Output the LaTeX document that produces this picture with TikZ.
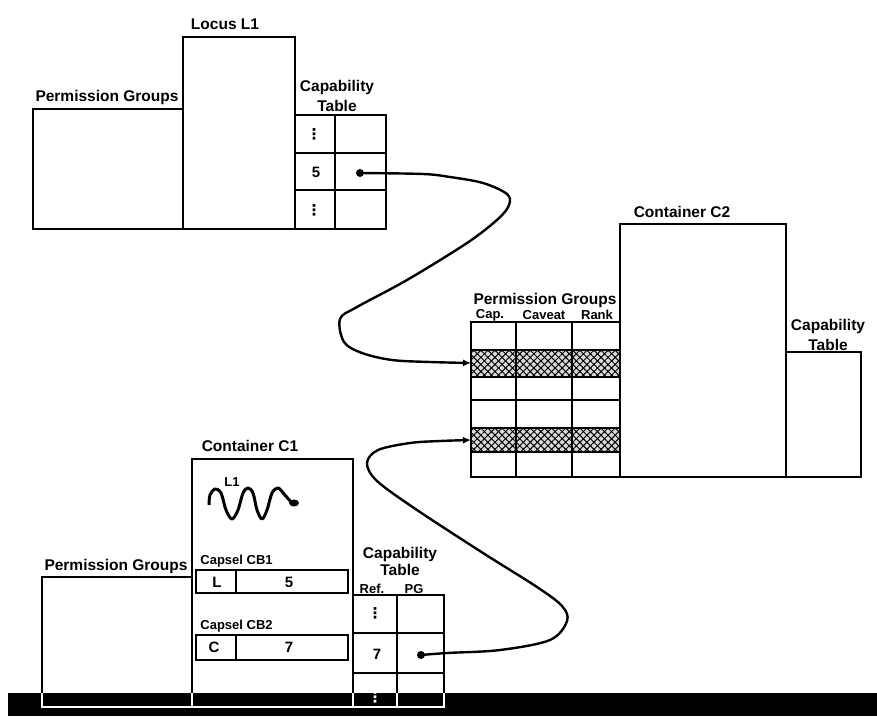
\documentclass[tikz,border=0pt]{standalone}
\usepackage{fontspec}
\setmainfont{Liberation Sans}
\newfontfamily\djv{DejaVu Sans}
\usetikzlibrary{patterns.meta,arrows.meta}
\begin{document}
\begin{tikzpicture}[x=1pt,y=-1pt,line width=2.8pt,
  lbl/.style={inner sep=0pt,font=\fontsize{15.5}{20}\selectfont\bfseries,align=center},
  slbl/.style={inner sep=0pt,font=\fontsize{13}{15}\selectfont\bfseries},
  cell/.style={inner sep=0pt,font=\fontsize{15}{18}\selectfont\bfseries},
  vdot/.style={inner sep=0pt,font=\fontsize{15}{18}\selectfont\djv\bfseries},
  hatchrow/.style={preaction={fill=black!15},
    pattern={Lines[angle=45,distance=5pt,line width=1pt]},
    postaction={pattern={Lines[angle=-45,distance=5pt,line width=1pt]}}},
  link/.style={line width=2.4pt,-{Latex[length=8pt,width=7pt]}},
  dotmark/.style={circle,fill=black,inner sep=0pt,minimum size=8pt}]
\useasboundingbox (0,0) rectangle (877,718);

% ---------- top-left group ----------
\draw (33,109) rectangle (183,229);
\draw (183,37) rectangle (295,229);
\draw (295,115) rectangle (386,229);
\draw (335,115) -- (335,229);
\draw (295,153) -- (386,153);
\draw (295,190) -- (386,190);
\node[lbl] (locus) at (225,24) {Locus L1};
\node[lbl] (pgtop) at (107,97) {Permission Groups};
\node[lbl] (cttop) at (337,96) {Capability\\Table};
\node[vdot] (t1a) at (314,134) {⋮};
\node[cell] (t1b) at (316,172) {5};
\node[vdot] (t1c) at (314,210) {⋮};
\node[dotmark] (d1) at (360,173) {};

% ---------- Container C2 group ----------
\path[hatchrow] (471,350) rectangle (620,377);
\path[hatchrow] (471,428) rectangle (620,452);
\draw (471,322) rectangle (620,477);
\draw (516,322) -- (516,477);
\draw (572,322) -- (572,477);
\foreach \yy in {350,377,400,428,452} \draw (471,\yy) -- (620,\yy);
\draw (620,224) rectangle (786,477);
\draw (786,352) rectangle (861,477);
\node[lbl] (c2) at (682,212) {Container C2};
\node[lbl] (pgc2) at (545,300) {Permission Groups};
\node[slbl] (h1) at (490,315) {Cap.};
\node[slbl] (h2) at (544,315) {Caveat};
\node[slbl] (h3) at (597,315) {Rank};
\node[lbl] (ctc2) at (828,335) {Capability\\Table};
\coordinate (r1) at (471,363);
\coordinate (r2) at (471,440);

% ---------- Container C1 group ----------
\draw (192,459) rectangle (353,707);
\draw (42,577) rectangle (192,707);
\draw (353,595) rectangle (444,707);
\draw (397,595) -- (397,707);
\draw (353,633) -- (444,633);
\draw (353,673) -- (444,673);
\node[lbl] (c1) at (250,446) {Container C1};
\node[lbl] (pgc1) at (116,566) {Permission Groups};
\node[lbl,font=\fontsize{15.5}{17}\selectfont\bfseries] (ctc1) at (400,561) {Capability\\Table};
\node[slbl] (h4) at (372,589) {Ref.};
\node[slbl] (h5) at (414,589) {PG};
\node[vdot] (t2a) at (375,613) {⋮};
\node[cell] (t2b) at (377,654) {7};
\node[dotmark] (d2) at (421,655) {};

% capsels
\node[slbl,anchor=west] (cb1) at (199,561) {Capsel CB1};
\draw (196,570) rectangle (348,593);
\draw (236,570) -- (236,593);
\node[cell] (cb1a) at (217,582) {L};
\node[cell] (cb1b) at (289,582) {5};
\node[slbl,anchor=west] (cb2) at (199,626) {Capsel CB2};
\draw (196,635) rectangle (348,660);
\draw (236,635) -- (236,660);
\node[cell] (cb2a) at (214,647) {C};
\node[cell] (cb2b) at (289,647) {7};

% locus wave
\draw[line width=3pt,line join=round] plot[smooth,tension=0.55] coordinates {
 (209,505) (210,495) (215,489) (221,493) (226,510) (232,519) (238,510)
 (243,493) (248,488) (253,493) (257,510) (262,519) (267,510) (272,493)
 (278,488) (284,494) (291,502)};
\fill (294,503) ellipse (5pt and 3.5pt);
\node[slbl] (l1) at (232,482) {L1};

% ---------- links ----------
\draw[link] plot[smooth,tension=0.55] coordinates {
 (d1) (423,174) (450,177) (483,183) (507,194) (509,205) (498,219)
 (467,243) (407,280) (357,307) (340,319) (344,342) (362,353)
 (392,360) (430,362) (r1)};
\draw[link] plot[smooth,tension=0.55] coordinates {
 (d2) (447,653) (500,650) (550,640) (567,621) (562,606) (537,587)
 (483,553) (417,510) (377,481) (367,463) (378,450) (410,443)
 (440,441) (r2)};

% ---------- black bar ----------
\fill[black] (8,693) rectangle (877,716);
\draw[white,line width=1.8pt] (42,693) -- (42,707) -- (444,707) -- (444,693)
  (192,693) -- (192,707) (353,693) -- (353,707) (397,693) -- (397,707);
\node[vdot,white] (t2c) at (375,697) {⋮};
\end{tikzpicture}
\end{document}
